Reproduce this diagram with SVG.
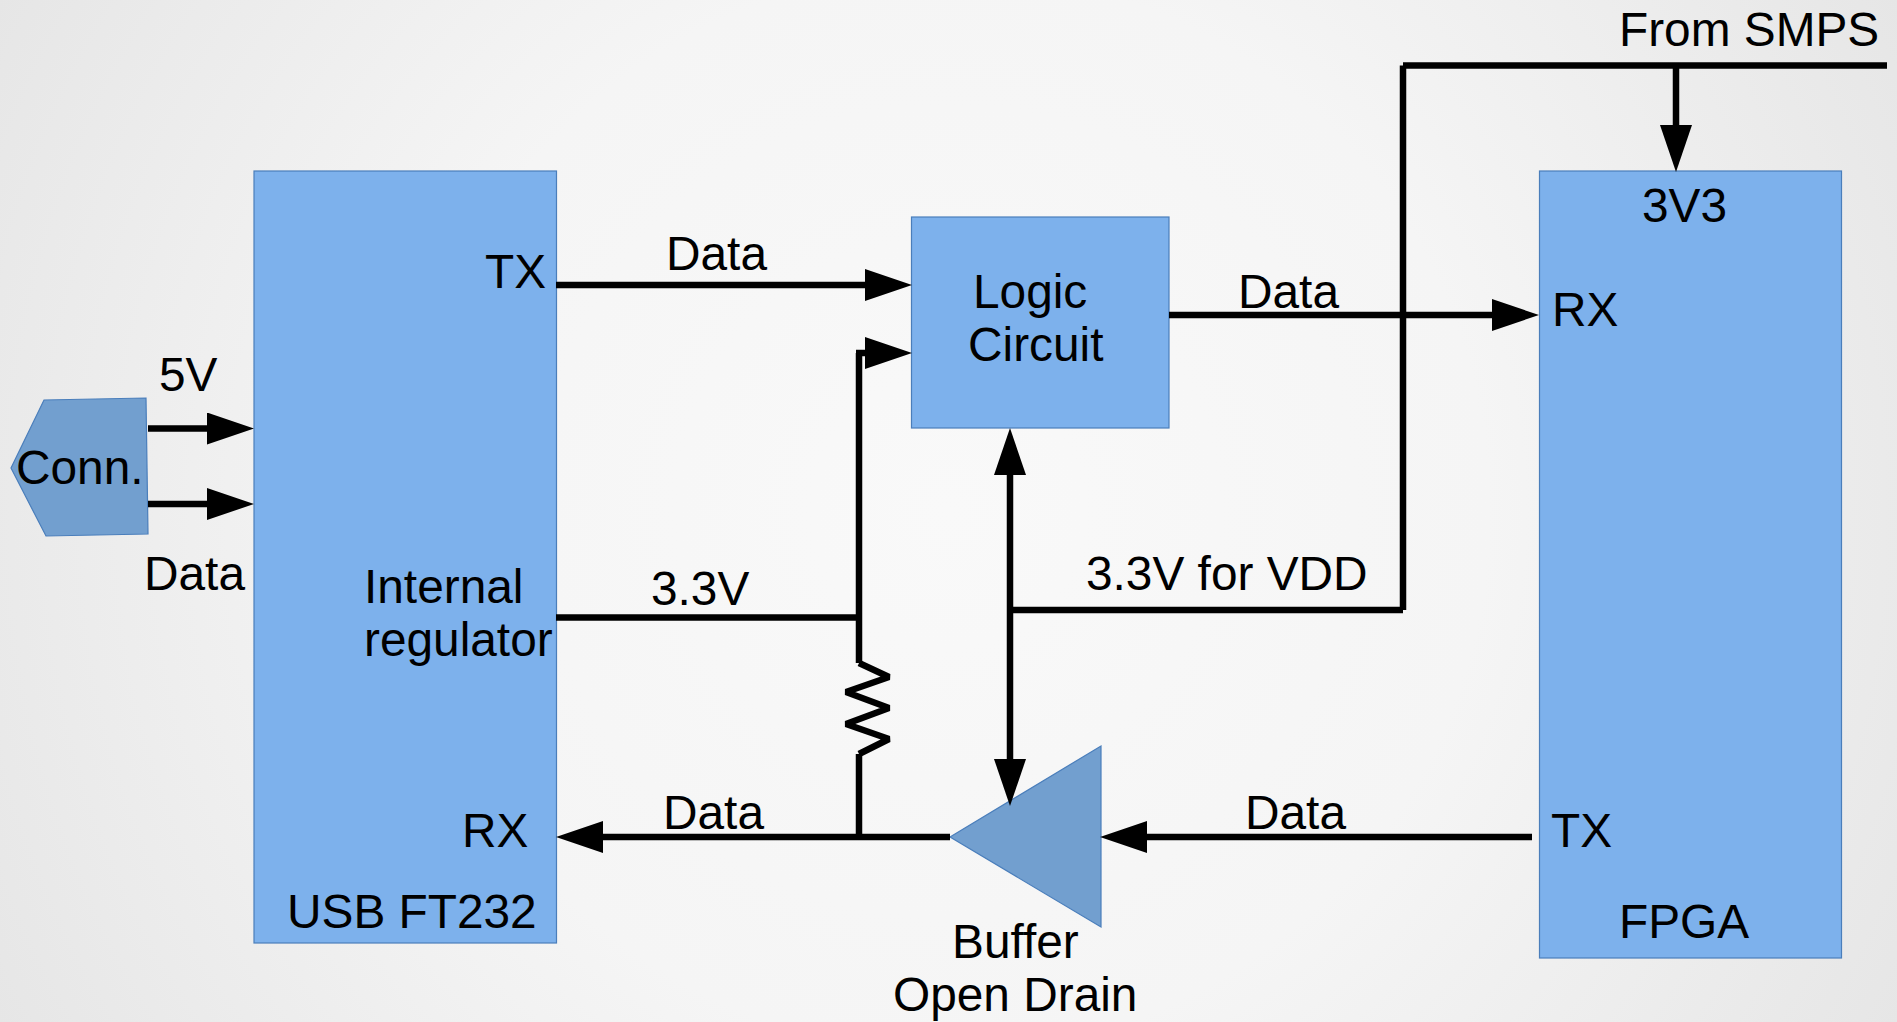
<svg xmlns="http://www.w3.org/2000/svg" width="1897" height="1022" viewBox="0 0 1897 1022">
<defs>
<radialGradient id="bg" gradientUnits="userSpaceOnUse" cx="948" cy="511" r="1080">
<stop offset="0" stop-color="#f9f9f9"/><stop offset="0.5" stop-color="#f5f5f5"/><stop offset="1" stop-color="#e6e6e6"/>
</radialGradient>
<marker id="ah" markerUnits="userSpaceOnUse" markerWidth="48" markerHeight="32" refX="35" refY="16" orient="auto-start-reverse"><path d="M0 0L47 16L0 32Z" fill="#000"/></marker>
</defs>
<style>
.blk{fill:#7db1ec;stroke:#4a7ebb;stroke-width:1.2}
.dk{fill:#729fcf;stroke:#4a7ebb;stroke-width:1.2}
.w{fill:none;stroke:#000;stroke-width:6.500}
.a{marker-end:url(#ah)}
text{font-family:"Liberation Sans",Arial,sans-serif;font-size:47.800px;fill:#000}
</style>
<rect width="1897" height="1022" fill="url(#bg)"/>
<g id="usb"><rect class="blk" x="254" y="171" width="302.500" height="772"/>
<text x="485" y="288">TX</text><text x="364" y="603">Internal</text><text x="364" y="656">regulator</text><text x="462" y="847">RX</text><text x="287" y="928">USB FT232</text></g>
<g id="fpga"><rect class="blk" x="1539.500" y="171" width="302" height="787"/>
<text x="1642" y="222">3V3</text><text x="1552" y="326">RX</text><text x="1551" y="847">TX</text><text x="1619" y="938">FPGA</text></g>
<g id="logic"><rect class="blk" x="911.500" y="217" width="257.500" height="211"/>
<text x="973" y="308">Logic</text><text x="968" y="361">Circuit</text></g>
<g id="conn"><path class="dk" d="M11 468L44 400L146 398L148 534L46 536Z"/><text x="16" y="484">Conn.</text></g>
<g id="buffer"><path class="dk" d="M950 837L1101 746V927Z"/><text x="952" y="958">Buffer</text><text x="893" y="1011">Open Drain</text></g>
<g id="connectors">
<path class="w a" d="M148 428.500H242"/>
<path class="w a" d="M148 504H242"/>
<path class="w a" d="M556 285H900"/>
<path class="w" d="M859 663V353"/>
<path class="w" d="M859 754V837"/>
<path class="w a" d="M856 353H900"/>
<path class="w a" d="M1169 315H1527"/>
<path class="w a" d="M1532 837H1112"/>
<path class="w a" d="M950 837H568"/>
<path class="w a" d="M1010 610V440"/>
<path class="w a" d="M1010 610V794"/>
<path class="w" d="M556 617.500H859"/>
<path class="w" d="M1010 610H1403"/>
<path class="w" d="M1403 610V65.500"/>
<path class="w" d="M1403 65.500H1887"/>
<path class="w a" d="M1676 65.500V160"/>
<path class="w" style="stroke-linejoin:bevel" d="M859 663L889 677L846 692L889 708L846 724L889 739L859 754"/>
</g>
<g id="labels">
<text x="159" y="391">5V</text><text x="144" y="590">Data</text>
<text x="666" y="270">Data</text><text x="1238" y="308">Data</text>
<text x="651" y="605">3.3V</text><text x="1086" y="590">3.3V for VDD</text>
<text x="663" y="829">Data</text><text x="1245" y="829">Data</text>
<text x="1619" y="46">From SMPS</text>
</g>
</svg>
